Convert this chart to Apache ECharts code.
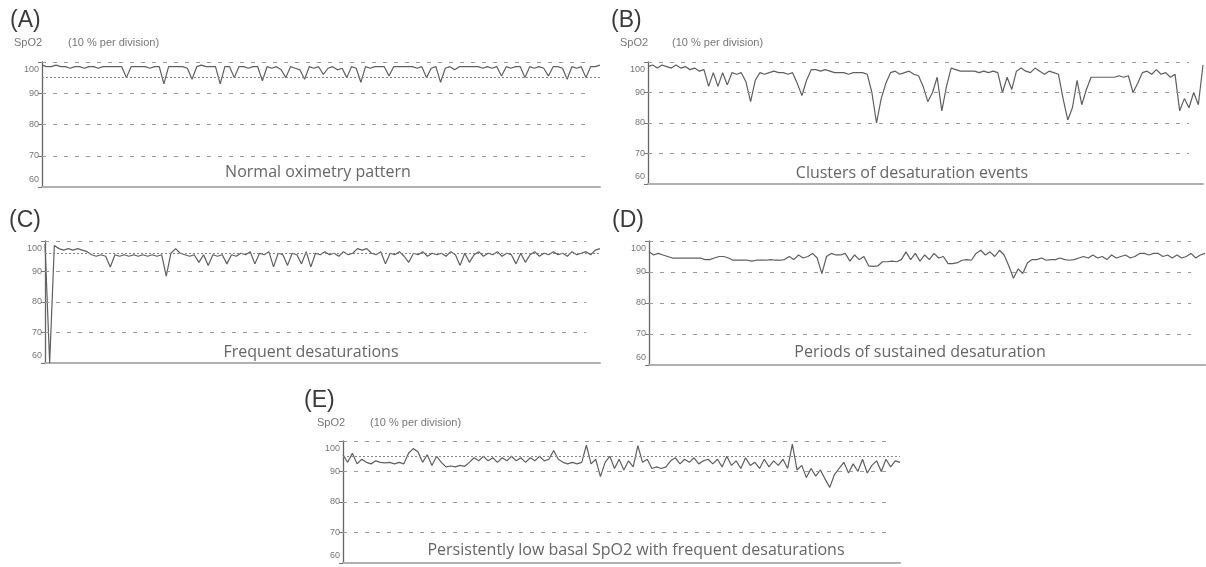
<!DOCTYPE html>
<html>
<head>
<meta charset="utf-8">
<script src="https://cdn.jsdelivr.net/npm/echarts@6/dist/echarts.min.js"></script>
<style>
html,body{margin:0;padding:0;background:#fff;}
#chart{width:1206px;height:567px;}
</style>
</head>
<body>
<div id="chart"></div>
<script>
// ---- data (SpO2 %) ----
const yTicks = [60, 70, 80, 90, 100];
const panelLetters = ['(A)', '(B)', '(C)', '(D)', '(E)'];
const captions = [
  'Normal oximetry pattern',
  'Clusters of desaturation events',
  'Frequent desaturations',
  'Periods of sustained desaturation',
  'Persistently low basal SpO2 with frequent desaturations'
];
const refLines = [95, null, 96, null, 95];

const spo2A = [
  99, 98.5, 98.5, 99, 98.5, 98.5, 98, 98.5, 98.5, 98,
  98.5, 98.5, 98, 98.5, 98.5, 98.5, 98.5, 98.5, 95, 98.5,
  98.5, 98.5, 98.5, 98, 98.5, 98.5, 93, 98.5, 98.5, 98.5,
  98.5, 98, 94.5, 98.5, 99, 98.5, 98.5, 98.5, 93, 98.5,
  98.5, 95, 98.5, 98.5, 98, 98.5, 98.5, 94, 98.5, 98,
  98.5, 97.5, 95, 98.5, 98, 97.5, 94.5, 98.5, 98, 98.5,
  96, 98, 98.5, 97.5, 98, 95, 98.5, 98, 93.5, 98.5,
  98, 98.5, 98.5, 98.5, 95.5, 98.5, 98.5, 98.5, 98.5, 98.5,
  98, 98.5, 95, 98, 98.5, 93.5, 98, 98.5, 97.5, 98.5,
  98.5, 98.5, 98.5, 98.5, 98, 98.5, 98, 98.5, 95.5, 98.5,
  98, 98.5, 98.5, 95, 98.5, 98, 98.5, 98, 95.5, 98.5,
  98.5, 98, 94.5, 98.5, 98, 98.5, 95, 98.5, 98.5, 99
];
const spo2B = [
  98.5, 99, 98, 99, 98.5, 98, 99, 98, 98.5, 97.5, 98, 97, 97.5,
  92, 96.5, 92, 96.5, 92.5, 96.5, 96, 96.5, 93.5, 87, 94,
  96.5, 96, 96.5, 97, 96.5, 96.5, 96, 96.5,
  93, 89, 94,
  97.5, 97.5, 97, 97.5, 97,
  96.5, 96.5, 96.5, 96, 96.5, 96.5, 96.5, 96,
  90, 80, 88, 93,
  96.5, 97, 96, 96.5, 97, 96, 95.5,
  92, 87, 90, 95, 84, 92,
  98, 97.5, 97, 97, 97, 97, 96.5, 97, 96.5, 97, 96.5,
  90, 95, 91,
  97, 98, 97, 96.5, 98, 97, 96, 97, 96.5, 96,
  88, 81, 85, 94, 86, 91,
  95, 95, 95, 95, 95, 95, 95.5, 95, 95.5,
  90, 93,
  96.5, 97, 96, 97.5, 96, 96.5, 95, 96,
  84, 88, 85, 90, 86, 99
];
const spo2C = [
  99, 60, 98.5, 97.5, 97, 97.5, 97, 97.5, 97, 96.5,
  95.5, 95, 95.5, 95, 91.5, 95.5, 95, 95.5, 95, 95.5,
  95, 95.5, 95, 95.5, 95, 95.5, 88.5, 96, 97.5, 96,
  95.5, 95, 95.5, 93, 95.5, 92, 95.5, 95, 95.5, 92.5,
  95.5, 95, 96, 95.5, 96.5, 92.5, 96, 95.5, 96.5, 91.5,
  96, 95.5, 92, 96, 95.5, 92.5, 96.5, 91.5, 96, 95.5,
  96.5, 95.5, 96, 95, 96.5, 95.5, 96, 97.5, 97, 97.5,
  96, 95.5, 96.5, 92.5, 96, 95.5, 96.5, 95, 93, 96,
  95.5, 96.5, 95, 96, 95.5, 96, 95, 96.5, 95.5, 92,
  96, 93, 95.5, 96.5, 95, 96, 95.5, 96.5, 95, 96,
  95.5, 92.5, 96, 93, 95.5, 96.5, 95, 96, 95.5, 96.5,
  95.5, 96, 95, 96.5, 95.5, 96, 96.5, 95.5, 97, 97.5
];
const spo2D = [
  96.5, 95.5, 96, 95.5, 95, 94.5, 94.5, 94.5, 94.5, 94.5,
  94.5, 94.5, 94, 94, 94.5, 95, 95, 94.5, 93.8, 93.8,
  93.8, 93.8, 93.5, 93.8, 93.8, 93.8, 94, 93.8, 93.8, 94,
  95, 94, 95.5, 94.5, 95, 96, 94.5, 89.5, 95, 96,
  95.5, 95.5, 96, 93.5, 95.5, 94, 95, 92, 91.8, 92,
  93.3, 93.3, 93.5, 93.3, 94, 96.5, 94, 96, 93.5, 95.5,
  94, 96, 94.5, 95, 92.7, 92.7, 93, 93.8, 94, 93.8,
  96, 97, 95.5, 96.5, 95, 97, 95.5, 92, 88, 91,
  89.5, 93, 94, 94, 94.5, 93.8, 94, 94, 94.5, 94,
  93.8, 94, 94.5, 95, 94.5, 95.5, 94.5, 95, 94, 95.5,
  94.5, 95, 95.5, 94.5, 95, 96, 96, 95.5, 96, 96,
  95, 95.5, 94.5, 95.5, 94.5, 95, 96, 94.5, 95.5, 96
];
const spo2E = [
  95.5, 93, 96, 92.5, 94, 93, 92.5, 93.5, 93, 92.8,
  93, 92.5, 93, 92.5, 96, 97.5, 96.5, 93, 95.5, 92,
  95, 93, 91.5, 91.8, 91.5, 92, 91.7, 93, 94.5, 93.5,
  95, 93.5, 94.5, 93, 94.5, 93.5, 95, 93.5, 94.5, 93,
  94.5, 93.5, 95, 93.5, 94, 96.9, 94, 93, 92.5, 93,
  92.5, 93, 98.6, 92.5, 94, 88.3, 93, 95, 91, 94,
  90.5, 93.5, 91.5, 98.5, 93, 94, 91, 91.5, 91, 91.5,
  93.5, 94.5, 92.5, 94, 93, 94.5, 92.5, 93.5, 94, 92.5,
  94, 91.5, 95, 92, 93.5, 91, 94.5, 92, 93, 91,
  94, 91.5, 93.5, 92, 94, 91, 99, 90.5, 92, 88,
  91, 88.5, 90.5, 87.5, 84.8, 89, 91, 93, 89.5, 92.5,
  90, 94, 89.5, 92, 93.5, 90, 94, 91.5, 93.5, 93
];
const panelData = [spo2A, spo2B, spo2C, spo2D, spo2E];

// ---- layout (pixels) ----
const grids = [
  {left: 42,  top: 62,  width: 558, height: 125},
  {left: 648, top: 62,  width: 555, height: 122},
  {left: 45,  top: 241, width: 555, height: 122},
  {left: 649, top: 241, width: 556, height: 124},
  {left: 343, top: 441, width: 557, height: 122}
];
const letterPos = [[10, 22], [611, 22], [9, 222], [612, 222], [304, 402]];
const spo2Pos = [[14, 43], [620, 43], null, null, [317, 423]];
const divPos = [[68, 43], [672, 43], null, null, [370, 423]];
const captionPos = [[318, 172], [912, 173], [311, 352], [920, 352], [636, 550]];

const GRID_FRAC = 0.975;
const gridColor = '#9a9a9a';

const xAxes = [], yAxes = [], series = [], graphics = [];
panelData.forEach((arr, k) => {
  const n = arr.length;
  xAxes.push({
    gridIndex: k, type: 'value', min: 0, max: n - 1,
    axisLine: {show: true, lineStyle: {color: '#b0b0b0', width: 2}},
    axisTick: {show: false}, axisLabel: {show: false}, splitLine: {show: false}
  });
  yAxes.push({
    gridIndex: k, type: 'value', min: yTicks[0], max: yTicks[yTicks.length - 1], interval: 10,
    axisLine: {show: true, onZero: false, lineStyle: {color: '#666', width: 1.3}},
    axisTick: {show: true, length: 4, lineStyle: {color: '#777'}},
    axisLabel: {fontSize: 9, color: '#777', margin: 3, fontFamily: 'Liberation Sans',
      verticalAlignMaxLabel: 'top', verticalAlignMinLabel: 'bottom',
      formatter: v => v === 100 ? '{t|100}' : (v === 60 ? '{b|60}' : String(v)),
      rich: {t: {fontSize: 9, color: '#777', padding: [3, 0, 0, 0]},
             b: {fontSize: 9, color: '#777', padding: [0, 0, 3, 0]}}},
    splitLine: {show: false}
  });
  const gEnd = (n - 1) * GRID_FRAC;
  const ml = yTicks.slice(1).map(t => [
    {coord: [0, t], lineStyle: {type: [4, 7], color: gridColor, width: 1}},
    {coord: [gEnd, t]}
  ]);
  if (refLines[k] !== null) {
    ml.push([
      {coord: [0, refLines[k]], lineStyle: {type: [2, 2], color: '#888', width: 1}},
      {coord: [n - 1, refLines[k]]}
    ]);
  }
  series.push({
    type: 'line', xAxisIndex: k, yAxisIndex: k,
    data: arr.map((v, i) => [i, v]),
    showSymbol: false, symbol: 'none',
    lineStyle: {color: '#5f5f5f', width: 1.2},
    animation: false, silent: true,
    markLine: {silent: true, symbol: 'none', label: {show: false}, animation: false, data: ml}
  });
  graphics.push({type: 'text', left: letterPos[k][0], top: letterPos[k][1] - 13,
    style: {text: panelLetters[k], font: '23px "Liberation Sans"', fill: '#3a3a3a'}});
  if (spo2Pos[k]) {
    graphics.push({type: 'text', left: spo2Pos[k][0], top: spo2Pos[k][1] - 6,
      style: {text: 'SpO2', font: '11px "Liberation Sans"', fill: '#777'}});
    graphics.push({type: 'text', left: divPos[k][0], top: divPos[k][1] - 6,
      style: {text: '(10 % per division)', font: '11px "Liberation Sans"', fill: '#777'}});
  }
  graphics.push({type: 'text', x: captionPos[k][0], y: captionPos[k][1],
    style: {text: captions[k], font: '16px "Open Sans"', fill: '#666', align: 'center', verticalAlign: 'middle'}});
});

const chart = echarts.init(document.getElementById('chart'), null, {renderer: 'canvas'});
chart.setOption({
  backgroundColor: '#fff',
  animation: false,
  grid: grids,
  xAxis: xAxes,
  yAxis: yAxes,
  series: series,
  graphic: graphics
});
</script>
</body>
</html>
